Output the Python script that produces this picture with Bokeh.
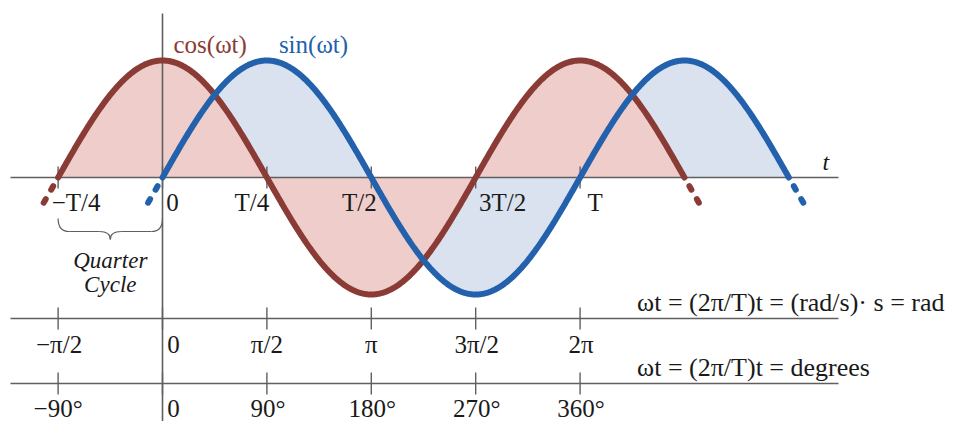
import numpy as np
from bokeh.plotting import figure
from bokeh.models import Range1d
from bokeh.core.properties import value
from bokeh.embed import file_html
from bokeh.resources import INLINE

# ---- data -------------------------------------------------------------
# phase ticks (radians) and the three rows of labels that name them
tick_phase = [-np.pi / 2, 0.0, np.pi / 2, np.pi, 3 * np.pi / 2, 2 * np.pi]
time_labels = ["−T/4", "0", "T/4", "T/2", "3T/2", "T"]
radian_labels = ["−π/2", "0", "π/2", "π", "3π/2", "2π"]
degree_labels = ["−90°", "0", "90°", "180°", "270°", "360°"]

# solid extent of each wave, in radians of ωt
cos_span = [-np.pi / 2, 5 * np.pi / 2]
sin_span = [0.0, 3 * np.pi]
tail = 0.24  # dashed continuation past each end

# horizontal nudges (px) of each label centre from its tick
time_dx = [18, 10, -15, -12, 27, 15]
radian_dx = [1, 11, 0, 0, 1, 1]
degree_dx = [0, 11, 1, 1, 1, 1]

# ---- layout -----------------------------------------------------------
W, H = 965, 421
PX_X, ORIGIN_X = 66.46, 162.0   # px per radian, px of ωt = 0
PX_Y, ORIGIN_Y = 117.0, 177.0   # px per unit amplitude, px of the t axis
LIFT = 6                        # px raise applied to every text baseline


def ux(px):
    return px / PX_X


def uy(px):
    return px / PX_Y


T_AXIS = 0.0
RAD_AXIS = -uy(141)
DEG_AXIS = -uy(206)
AX_L, AX_R = ux(10 - ORIGIN_X), ux(838 - ORIGIN_X)
TICK = uy(11)

COS = "#8b3b36"
SIN = "#2361ad"
COS_FILL = "#eecdca"
SIN_FILL = "#d9e2ee"
AXIS = "#5f5f5f"
INK = "#1a1a1a"
FONT = value("Liberation Serif")

p = figure(width=W, height=H, output_backend="svg", toolbar_location=None,
           x_range=Range1d(-ux(ORIGIN_X), ux(W - ORIGIN_X)),
           y_range=Range1d(-uy(H - ORIGIN_Y), uy(ORIGIN_Y)),
           x_axis_type=None, y_axis_type=None, min_border=0,
           outline_line_color=None, background_fill_color="white")
p.grid.visible = False

# ---- filled areas under each wave --------------------------------------
th_c = np.linspace(cos_span[0], cos_span[1], 600)
th_s = np.linspace(sin_span[0], sin_span[1], 600)
p.varea(x=th_s, y1=0, y2=np.sin(th_s), fill_color=SIN_FILL)
p.varea(x=th_c, y1=0, y2=np.cos(th_c), fill_color=COS_FILL)

# ---- axes ----------------------------------------------------------------
p.segment(x0=[AX_L] * 3, x1=[AX_R] * 3, y0=[T_AXIS, RAD_AXIS, DEG_AXIS],
          y1=[T_AXIS, RAD_AXIS, DEG_AXIS], line_color=AXIS, line_width=1.6)
p.segment(x0=[0.0], x1=[0.0], y0=[uy(ORIGIN_Y - 13)], y1=[-uy(H)],
          line_color=AXIS, line_width=1.6)
for level in (T_AXIS, RAD_AXIS, DEG_AXIS):
    p.segment(x0=tick_phase, x1=tick_phase,
              y0=[level + TICK] * len(tick_phase),
              y1=[level - TICK] * len(tick_phase),
              line_color=AXIS, line_width=1.4)

# ---- waves ----------------------------------------------------------------
p.line(th_c, np.cos(th_c), line_color=COS, line_width=6, line_cap="round")
p.line(th_s, np.sin(th_s), line_color=SIN, line_width=6, line_cap="round")

# dashed tails, each running outward from the end of the solid curve
for start, step, fn, col in [(cos_span[0], -1, np.cos, COS),
                             (cos_span[1], 1, np.cos, COS),
                             (sin_span[0], -1, np.sin, SIN),
                             (sin_span[1], 1, np.sin, SIN)]:
    th = np.linspace(start, start + step * tail, 60)
    p.line(th, fn(th), line_color=col, line_width=6, line_cap="round",
           line_dash="4 11", line_dash_offset=5)

# ---- labels ---------------------------------------------------------------
common = dict(text_font=FONT, text_color=INK, text_align="center",
              text_baseline="alphabetic", text_font_size="25px")
p.text(x=tick_phase, y=[T_AXIS - uy(31 - LIFT)] * 6, text=time_labels,
       x_offset=time_dx, **common)
p.text(x=tick_phase, y=[RAD_AXIS - uy(32 - LIFT)] * 6, text=radian_labels,
       x_offset=radian_dx, **common)
p.text(x=tick_phase, y=[DEG_AXIS - uy(31 - LIFT)] * 6, text=degree_labels,
       x_offset=degree_dx, **common)

p.text(x=[0.0], y=[1 + uy(10 + LIFT)], text=["cos(ωt)"], x_offset=11,
       text_font=FONT, text_font_size="25px", text_color=COS,
       text_baseline="alphabetic")
p.text(x=[np.pi / 2], y=[1 + uy(10 + LIFT)], text=["sin(ωt)"], x_offset=12,
       text_font=FONT, text_font_size="25px", text_color=SIN,
       text_baseline="alphabetic")

p.text(x=[AX_R], y=[uy(10 + LIFT)], text=["t"], x_offset=-16, text_font=FONT,
       text_font_size="24px", text_font_style="italic", text_color=INK,
       text_baseline="alphabetic")

p.text(x=[-np.pi / 4] * 2, y=[-uy(89 - LIFT), -uy(113 - LIFT)],
       text=["Quarter", "Cycle"],
       text_font=FONT, text_font_size="23px", text_font_style="italic",
       text_color=INK, text_align="center", text_baseline="alphabetic")

p.text(x=[2 * np.pi] * 2,
       y=[RAD_AXIS + uy(10 + LIFT), DEG_AXIS + uy(10 + LIFT)],
       text=["ωt = (2π/T)t = (rad/s)· s = rad", "ωt = (2π/T)t = degrees"],
       x_offset=57, text_font=FONT, text_font_size="26px", text_color=INK,
       text_baseline="alphabetic")

# ---- brace spanning one quarter cycle --------------------------------------
xL, xR, xC = -np.pi / 2, 0.0, -np.pi / 4
yTop, yMid, yTip = -uy(41), -uy(54), -uy(62)
rx = ux(11)
p.quadratic(x0=[xL, xC - rx, xC, xR - rx], y0=[yTop, yMid, yTip, yMid],
            x1=[xL + rx, xC, xC + rx, xR], y1=[yMid, yTip, yMid, yTop],
            cx=[xL, xC, xC, xR], cy=[yMid, yMid, yMid, yMid],
            line_color=AXIS, line_width=1.2)
p.segment(x0=[xL + rx, xC + rx], x1=[xC - rx, xR - rx],
          y0=[yMid, yMid], y1=[yMid, yMid], line_color=AXIS, line_width=1.2)

open("out.html", "w").write(file_html(p, INLINE))
